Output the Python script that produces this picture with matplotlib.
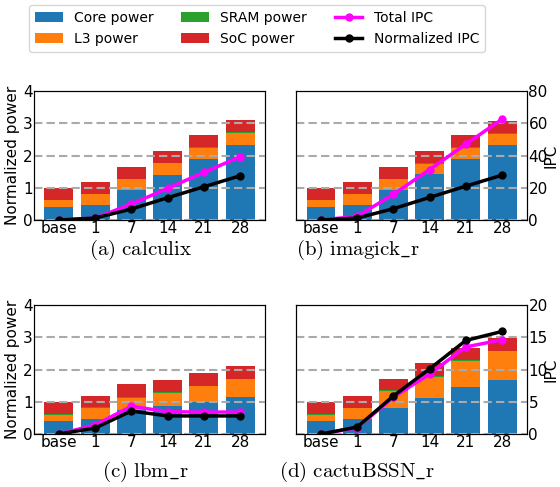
import numpy as np
import matplotlib
matplotlib.use("Agg")
import matplotlib.pyplot as plt

plt.rcParams['font.size'] = 11
plt.rcParams['mathtext.fontset'] = 'cm'

cores = ["base", "1", "7", "14", "21", "28"]
names = [r"$\mathrm{(a)\ calculix}$", r"$\mathrm{(b)\ imagick\_r}$",
         r"$\mathrm{(c)\ lbm\_r}$", r"$\mathrm{(d)\ cactuBSSN\_r}$"]

# power, normalized to base (stacked)
core_pw = [[0.40, 0.46, 0.94, 1.39, 1.89, 2.32],
           [0.40, 0.46, 0.94, 1.42, 1.89, 2.32],
           [0.41, 0.47, 0.75, 0.88, 1.00, 1.15],
           [0.41, 0.47, 0.81, 1.12, 1.46, 1.68]]
l3_pw = [[0.22, 0.34, 0.33, 0.37, 0.35, 0.38],
         [0.22, 0.34, 0.32, 0.32, 0.35, 0.35],
         [0.19, 0.33, 0.38, 0.40, 0.49, 0.56],
         [0.19, 0.34, 0.53, 0.65, 0.81, 0.88]]
sram_pw = [[0.01, 0.01, 0.01, 0.01, 0.02, 0.02],
           [0.01, 0.01, 0.02, 0.02, 0.02, 0.02],
           [0.02, 0.03, 0.02, 0.01, 0.01, 0.01],
           [0.03, 0.01, 0.01, 0.03, 0.01, 0.02]]
soc_pw = [[0.37, 0.37, 0.36, 0.36, 0.37, 0.37],
          [0.36, 0.37, 0.36, 0.37, 0.37, 0.37],
          [0.37, 0.36, 0.41, 0.39, 0.40, 0.39],
          [0.36, 0.37, 0.36, 0.41, 0.39, 0.40]]

total_ipc = [[0, 1.2, 9.9, 19.6, 29.5, 39.2],
             [0, 2.3, 15.9, 31.3, 47.0, 62.5],
             [0, 1.4, 4.3, 3.45, 3.4, 3.4],
             [0, 0.98, 5.7, 9.3, 13.5, 14.6]]
norm_ipc = [[0, 1.2, 6.8, 13.8, 20.6, 27.4],
            [0, 1.2, 7.0, 14.0, 21.0, 27.8],
            [0, 0.93, 3.56, 2.8, 2.8, 2.8],
            [0, 1.08, 5.9, 10.1, 14.5, 15.9]]
ipc_max = [80, 80, 20, 20]

W, H = 560, 487
fig = plt.figure(figsize=(W / 100, H / 100), dpi=100)

# pixel boxes: left, top, right, bottom
boxes = [(34, 91, 265, 220), (296, 91, 527, 220),
         (34, 305, 265, 434), (296, 305, 527, 434)]
cap_xy = [(141, 250), (358, 250), (145, 472), (357, 472)]

colors = ['#1f77b4', '#ff7f0e', '#2ca02c', '#d62728']
x = np.arange(len(cores))
handles = None
for i in range(4):
    l, t, r, b = boxes[i]
    ax = fig.add_axes([l / W, 1 - b / H, (r - l) / W, (b - t) / H])
    c = np.array(core_pw[i]); l3 = np.array(l3_pw[i])
    sr = np.array(sram_pw[i]); so = np.array(soc_pw[i])
    b1 = ax.bar(x, c, 0.8, color=colors[0], label="Core power")
    b2 = ax.bar(x, l3, 0.8, bottom=c, color=colors[1], label="L3 power")
    b3 = ax.bar(x, sr, 0.8, bottom=c + l3, color=colors[2], label="SRAM power")
    b4 = ax.bar(x, so, 0.8, bottom=c + l3 + sr, color=colors[3], label="SoC power")
    ax.set_ylim(0, 4)
    ax.set_yticks([0, 1, 2, 3, 4])
    ax.set_xticks(x)
    ax.set_xticklabels(cores)
    ax.tick_params(length=0, pad=1)
    ax.set_axisbelow(False)
    ax.yaxis.grid(True, linestyle=(0, (4, 2)), color='#aaaaaa', linewidth=1.5)
    if i % 2 == 1:
        ax.set_yticklabels([])
    else:
        ax.set_ylabel("Normalized power", labelpad=2)

    ax2 = ax.twinx()
    p1, = ax2.plot(x, total_ipc[i], '-o', color='magenta', lw=2.5, ms=5, label="Total IPC")
    p2, = ax2.plot(x, norm_ipc[i], '-o', color='black', lw=2.5, ms=5, label="Normalized IPC")
    ax2.set_ylim(0, ipc_max[i])
    ax2.set_yticks(np.linspace(0, ipc_max[i], 5))
    ax2.tick_params(length=0, pad=1)
    if i % 2 == 0:
        ax2.set_yticklabels([])
    else:
        ax2.set_ylabel("IPC")
        ax2.yaxis.set_label_coords(1.072, 0.5)
    fig.text(cap_xy[i][0] / W, 1 - cap_xy[i][1] / H, names[i], ha='center', va='center', fontsize=15)
    handles = [b1, b2, b3, b4, p1, p2]

fig.legend(handles, [h.get_label() for h in handles], ncol=3,
           loc='center', bbox_to_anchor=(257 / W, 1 - 28.5 / H),
           handlelength=2.0, columnspacing=2.0, fontsize=10)

fig.savefig("out.png", dpi=100)
